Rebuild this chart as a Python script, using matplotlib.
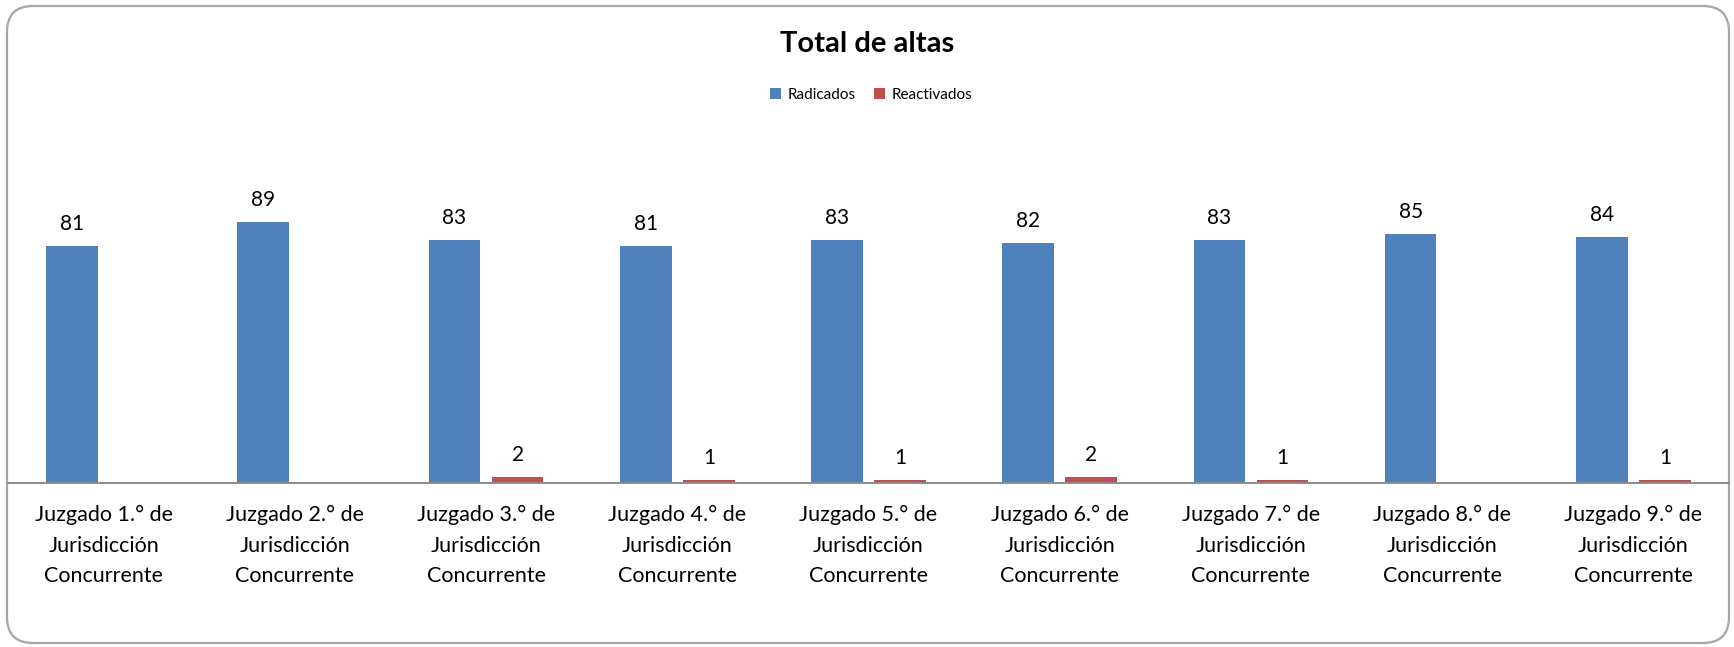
import numpy as np
import matplotlib.pyplot as plt
from matplotlib.patches import FancyBboxPatch
from matplotlib.transforms import IdentityTransform

plt.rcParams['font.family'] = ['Lato', 'DejaVu Sans']

# data
juzgados = [f"Juzgado {i}.° de\nJurisdicción\nConcurrente" for i in range(1, 10)]
radicados = [81, 89, 83, 81, 83, 82, 83, 85, 84]
reactivados = [0, 0, 2, 1, 1, 2, 1, 0, 1]

BLUE = '#4F81BD'
RED = '#C0504D'

W, H = 1734, 647
fig = plt.figure(figsize=(W / 100, H / 100), dpi=100)
fig.patch.set_facecolor('white')

# rounded chart frame (pixel coords)
frame = FancyBboxPatch((7, 4), 1722, 637, boxstyle="round,pad=0,rounding_size=26",
                       transform=IdentityTransform(), facecolor='white',
                       edgecolor='#A6A6A6', linewidth=1.6, zorder=0)
fig.add_artist(frame)

ax = fig.add_axes([8 / W, (H - 483) / H, 1721 / W, 293 / H])
ax.set_facecolor('none')

x = np.arange(len(juzgados))
w = 0.27
off = 0.165
b1 = ax.bar(x - off, radicados, w, color=BLUE, label='Radicados', zorder=2)
b2 = ax.bar(x + off, reactivados, w, color=RED, label='Reactivados', zorder=2)

for bars, vals in ((b1, radicados), (b2, reactivados)):
    for rect, v in zip(bars, vals):
        if v == 0:
            continue
        ax.annotate(str(v), (rect.get_x() + rect.get_width() / 2, v),
                    xytext=(0, 11.5), textcoords='offset points',
                    ha='center', va='baseline', fontsize=15)

ax.set_xlim(-0.5, len(juzgados) - 0.5)
ax.set_ylim(0, 100)
ax.set_xticks(x)
ax.set_xticklabels(juzgados, fontsize=15.5, linespacing=1.66)
ax.tick_params(axis='x', length=0, pad=16)
ax.set_yticks([])
for s in ('left', 'right', 'top'):
    ax.spines[s].set_visible(False)
ax.spines['bottom'].set_color('#8C8C8C')
ax.spines['bottom'].set_linewidth(1.4)

fig.text(0.5, 1 - 44 / H, 'Total de altas', ha='center', va='center',
         fontsize=21, fontweight='bold')

fig.legend(handles=[b1, b2], loc='center', bbox_to_anchor=(871 / W, 1 - 95 / H),
           ncol=2, frameon=False, fontsize=11, handlelength=0.75, handleheight=0.75,
           handletextpad=0.4, columnspacing=1.2)

fig.savefig('out.png', dpi=100)
